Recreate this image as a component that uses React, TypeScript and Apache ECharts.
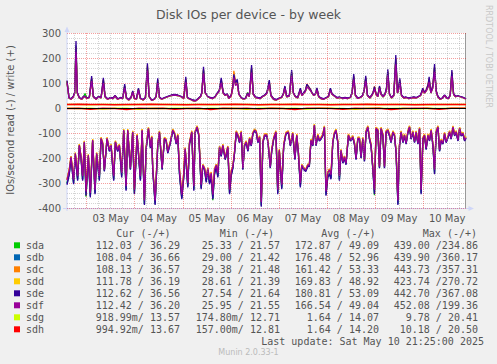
import React, { useEffect, useRef } from "react";
import * as echarts from "echarts";

const disks = ["sda", "sdb", "sdc", "sdd", "sde", "sdf", "sdg", "sdh"];
const diskColors = ["#00CC00", "#0066B3", "#FF8000", "#FFCC00", "#330099", "#990099", "#CCFF00", "#FF0000"];

// hours since 02 May 00:00
const writeHours = `14.2 15.2 16.2 17.35 18.0 18.7 19.35 20.35 21.5 22.5
23.2 24.2 25.35 26.5 27.35 28.7 30.0 31.2 32.35 33.2
34.5 35.85 37.2 38.2 39.5 40.85 42.0 43.0 43.85 45.0
46.2 47.0 47.85 48.85 49.85 50.85 52.2 53.35 54.35 55.2
56.5 57.85 58.7 59.5 60.35 61.5 62.85 64.5 66.2 67.85
69.5 71.2 72.5 73.5 74.35 75.7 77.0 78.35 79.5 80.85
81.5 82.35 83.2 84.5 85.7 87.0 88.2 89.2 90.2 91.2
92.2 93.2 94.2 95.0 96.2 97.0 97.5 98.35 99.2 100.0
101.2 102.35 103.35 104.35 105.2 106.35 107.2 108.35 109.5 110.7
111.7 112.85 114.0 115.2 116.0 117.35 118.7 120.0 121.35 122.2
123.0 123.85 125.2 126.35 127.2 128.2 129.35 130.7 131.5 132.35
133.2 134.0 134.85 135.7 136.5 137.35 138.2 139.0 139.85 141.0
142.35 143.5 144.7 145.7 146.5 147.7 149.0 150.35 151.7 153.0
154.35 155.7 156.5 157.35 158.2 159.35 160.7 161.7 162.5 163.35
164.2 165.35 166.35 167.0 167.7 168.5 169.35 170.2 171.0 172.0
173.0 173.7 174.35 175.2 176.2 177.35 178.35 179.2 179.7 180.35
181.2 182.35 183.5 184.7 186.0 187.35 188.5 189.7 190.7 191.85
192.7 193.7 194.5 195.0 195.85 196.85 197.7 198.5 199.35 200.5
201.5 202.7 203.7 204.7 205.5 206.35 207.2 208.2 209.35 210.5
211.7 212.7 213.4`;

const sdaWrite = `104 40 35 45 60 240 60 40 35 45
58 38 42 115 45 35 45 40 108 45
35 40 38 48 35 40 38 86 40 32
42 64 38 35 73 38 32 40 160 45
30 35 45 106 42 35 40 45 50 52
50 45 38 112 40 35 30 28 35 45
60 148 60 45 40 38 45 58 68 108
60 50 55 38 50 84 128 94 104 55
40 35 38 62 45 155 55 42 40 38
45 50 60 102 50 35 32 38 42 55
82 45 48 138 60 45 40 73 50 60
68 88 80 72 60 50 55 75 45 38
35 40 45 73 55 48 40 42 38 40
38 42 60 122 50 38 42 48 68 116
50 40 50 60 80 55 45 82 55 45
55 75 140 55 40 50 190 60 75 106
50 40 42 38 40 42 40 45 50 73
60 72 88 112 60 84 158 68 45 35
38 50 40 38 50 138 55 45 48 45
42 38 36`;
const sdbWrite = `106 40 35 45 60 250 60 40 35 45
45 38 42 118 45 35 45 40 112 45
35 40 38 48 35 40 38 88 40 32
42 65 38 35 74 38 32 40 165 45
30 35 45 110 42 35 40 45 50 52
50 45 38 115 40 35 30 28 35 45
60 152 60 45 40 38 45 58 68 112
60 50 55 38 50 85 130 95 106 55
40 35 38 58 45 160 55 42 40 38
45 50 60 104 50 35 32 38 42 55
84 45 48 142 60 45 40 74 50 60
68 90 82 73 60 50 55 76 45 38
35 40 45 74 55 48 40 42 38 40
38 42 60 126 50 38 42 48 68 120
50 40 50 60 82 55 45 84 55 45
55 76 145 55 40 50 198 60 76 110
50 40 42 38 40 42 40 45 50 74
60 73 90 115 60 85 162 68 45 35
38 50 40 38 50 142 55 45 48 45
42 38 36`;
const sdcWrite = `108 40 35 45 60 245 60 40 35 45
45 38 42 120 45 35 45 40 115 45
35 40 38 48 35 40 38 90 40 32
42 66 38 35 76 38 32 40 170 45
30 35 45 112 42 35 40 45 50 52
50 45 38 118 40 35 30 28 35 45
60 155 60 45 40 38 45 58 70 115
60 50 55 38 50 92 149 102 110 55
40 35 38 60 45 162 55 42 40 38
45 50 60 106 50 35 32 38 42 55
85 45 48 145 60 45 40 76 50 60
70 96 86 76 60 50 55 78 45 38
35 40 45 76 55 48 40 42 38 40
38 42 60 128 50 38 42 48 70 122
50 40 50 60 86 55 45 85 55 45
55 78 148 55 40 50 200 60 78 112
50 40 42 38 40 42 40 45 50 76
60 76 96 118 60 92 165 70 45 35
38 50 40 38 50 145 55 45 48 45
42 38 36`;
const sddWrite = `102 40 35 45 59 235 60 40 35 45
45 38 42 112 45 35 45 40 105 45
35 40 38 48 35 40 38 84 40 32
42 63 38 35 71 38 32 40 155 45
30 35 45 104 42 35 40 45 50 52
50 45 38 108 40 35 30 28 35 45
58 143 60 45 40 38 45 58 66 105
60 50 55 38 50 82 132 92 100 55
40 35 38 57 45 150 55 42 40 38
45 50 58 99 50 35 32 38 42 55
80 45 48 133 60 45 40 71 50 58
66 86 79 70 60 50 55 73 45 38
35 40 45 71 55 48 40 42 38 40
38 42 58 118 50 38 42 48 66 112
50 40 50 58 79 55 45 80 55 45
55 73 136 55 40 50 185 60 73 104
50 40 42 38 40 42 40 45 50 71
60 70 86 108 60 82 152 66 45 35
38 50 40 38 50 133 55 45 48 45
42 38 36`;
const sdeWrite = `110 42 37 47 62 268 62 42 37 47
47 40 44 128 47 37 47 42 121 47
37 42 40 50 37 42 40 96 42 34
44 68 40 37 79 40 34 42 179 47
32 37 47 119 44 37 42 47 52 54
52 47 40 125 42 37 32 30 37 47
62 165 62 47 42 40 47 60 70 121
62 52 57 40 52 90 135 100 115 57
42 37 40 60 47 172 57 44 42 40
47 52 62 112 52 37 34 40 44 57
88 47 50 152 62 47 42 79 52 62
70 95 85 75 62 52 57 80 47 40
37 42 47 79 57 50 42 44 40 42
40 44 62 136 52 40 44 50 70 129
52 42 52 62 85 57 47 88 57 47
57 80 155 57 42 52 212 62 80 119
52 42 44 40 42 44 42 47 52 79
62 75 95 125 62 90 176 70 47 37
40 52 42 40 52 152 57 47 50 47
44 40 37`;
const sdfWrite = `100 40 35 45 58 225 60 40 35 45
45 38 42 108 45 35 45 40 100 45
35 40 38 48 35 40 38 80 40 32
42 62 38 35 70 38 32 40 150 45
30 35 45 100 42 35 40 45 50 52
50 45 38 104 40 35 30 28 35 45
58 138 60 45 40 38 45 58 66 100
60 50 55 38 50 80 122 90 98 55
40 35 38 56 45 142 55 42 40 38
45 50 58 95 50 35 32 38 42 55
78 45 48 128 60 45 40 70 50 58
66 84 78 70 60 50 55 72 45 38
35 40 45 70 55 48 40 42 38 40
38 42 58 114 50 38 42 48 66 108
50 40 50 58 76 55 45 78 55 45
55 72 130 55 40 50 175 60 72 100
50 40 42 38 40 42 40 45 50 70
60 70 84 104 60 80 145 66 45 35
38 50 40 38 50 128 55 45 48 45
42 38 36`;

const readHours = `14.2 15.35 16.2 17.5 18.35 19.5 20.35 21.2 22.0 22.85
23.7 24.85 25.85 27.0 28.2 29.0 30.35 31.2 32.0 32.85
34.2 35.35 36.2 37.5 38.35 39.5 40.35 41.5 42.5 43.7
44.5 45.85 47.0 47.85 49.2 50.85 51.7 52.85 53.7 54.85
55.85 56.5 57.0 58.2 59.5 60.35 61.7 62.85 63.7 64.5
65.85 67.0 67.85 68.7 69.5 70.35 71.5 72.5 73.2 74.5
75.35 76.5 77.5 78.2 79.2 80.0 81.2 82.0 82.85 83.7
84.5 85.35 86.2 87.0 87.85 88.7 89.5 90.35 91.2 92.0
93.2 94.5 95.35 96.2 97.0 97.85 98.7 99.5 100.35 101.2
102.0 102.85 103.7 104.5 105.35 106.2 107.0 107.85 108.7 109.5
110.35 111.2 112.0 112.85 114.0 114.7 115.7 116.4 117.4 118.5
119.4 120.2 121.4 122.4 123.5 124.7 125.7 126.9 128.0 128.9
129.7 130.7 131.4 132.4 133.4 134.4 135.2 136.0 136.9 137.7
138.5 139.4 140.2 141.0 141.9 142.7 143.5 144.4 145.2 146.0
146.9 147.7 148.5 149.4 150.2 151.0 151.9 152.7 153.5 154.7
155.7 156.9 157.7 158.5 159.4 160.2 161.0 161.9 162.7 163.5
164.4 165.2 166.0 166.9 167.7 168.5 169.4 170.2 171.0 171.9
172.7 173.5 174.4 175.2 176.0 176.9 177.7 178.5 179.4 180.2
181.0 181.9 182.7 183.5 184.4 185.2 186.0 186.9 187.7 188.5
189.4 190.2 191.0 191.9 192.7 193.5 194.4 195.2 196.0 196.9
197.7 198.5 199.4 200.2 201.0 201.9 202.7 203.5 204.4 205.2
206.0 206.9 207.7 208.5 209.4 210.2 211.0 211.9 212.7 213.4`;

// read values (plotted negative)
const sdaRead = `-301 -259 -197 -299 -183 -285 -149 -197 -285 -136
-355 -190 -352 -129 -339 -183 -285 -122 -142 -250
-122 -170 -149 -285 -136 -170 -149 -272 -89 -325
-89 -243 -96 -339 -109 -285 -89 -382 -163 -82
-157 -116 -243 -382 -149 -96 -243 -122 -129 -177
-136 -89 -102 -142 -109 -259 -359 -272 -163 -312
-142 -96 -325 -96 -76 -109 -319 -230 -243 -292
-243 -299 -272 -369 -259 -230 -272 -157 -190 -149
-203 -157 -339 -265 -237 -177 -96 -109 -136 -96
-243 -149 -136 -170 -122 -149 -102 -89 -96 -136
-116 -389 -136 -109 -109 -149 -237 -170 -122 -96
-339 -170 -319 -149 -102 -96 -149 -102 -203 -109
-177 -312 -230 -243 -250 -230 -230 -129 -149 -69
-149 -109 -129 -122 -109 -76 -345 -272 -259 -279
-136 -102 -89 -136 -285 -170 -217 -197 -223 -109
-129 -116 -142 -203 -122 -122 -197 -122 -210 -96
-76 -122 -149 -243 -349 -82 -89 -237 -82 -109
-237 -96 -89 -109 -136 -96 -109 -177 -382 -149
-96 -136 -109 -142 -96 -76 -122 -96 -136 -96
-142 -82 -339 -122 -109 -163 -109 -129 -89 -149
-259 -96 -76 -170 -129 -142 -102 -136 -116 -96
-122 -76 -109 -96 -129 -82 -109 -102 -129 -119`;
const sdbRead = `-303 -261 -199 -301 -185 -287 -150 -199 -287 -137
-347 -192 -354 -130 -341 -185 -287 -123 -143 -252
-123 -172 -150 -287 -137 -172 -150 -274 -90 -327
-90 -245 -97 -341 -110 -287 -90 -384 -165 -83
-159 -117 -245 -384 -150 -97 -245 -123 -130 -179
-137 -90 -103 -143 -110 -261 -361 -274 -165 -314
-143 -97 -327 -97 -77 -110 -321 -232 -245 -294
-245 -301 -274 -361 -261 -232 -274 -159 -192 -150
-205 -159 -341 -267 -239 -179 -97 -110 -137 -97
-245 -150 -137 -172 -123 -150 -103 -90 -97 -137
-117 -391 -137 -110 -110 -150 -239 -172 -123 -97
-341 -172 -321 -150 -103 -97 -150 -103 -205 -110
-179 -314 -232 -245 -252 -232 -232 -130 -150 -70
-150 -110 -130 -123 -110 -77 -347 -274 -261 -281
-137 -103 -90 -137 -287 -172 -219 -199 -225 -110
-130 -117 -143 -205 -123 -123 -199 -123 -212 -97
-77 -123 -150 -245 -341 -83 -90 -239 -83 -110
-239 -97 -90 -110 -137 -97 -110 -179 -384 -150
-97 -137 -110 -143 -97 -77 -123 -97 -137 -97
-143 -83 -341 -123 -110 -165 -110 -130 -90 -150
-261 -97 -77 -172 -130 -143 -103 -137 -117 -97
-123 -77 -110 -97 -130 -83 -110 -103 -130 -120`;
const sdcRead = `-285 -243 -192 -283 -178 -269 -144 -192 -269 -131
-329 -185 -336 -124 -323 -178 -269 -117 -137 -245
-117 -165 -144 -269 -131 -165 -144 -256 -84 -309
-84 -238 -91 -323 -104 -269 -84 -366 -158 -77
-152 -111 -238 -366 -144 -91 -238 -117 -124 -172
-131 -84 -97 -137 -104 -243 -343 -256 -158 -296
-137 -91 -309 -91 -71 -104 -303 -225 -238 -276
-238 -283 -256 -343 -243 -225 -256 -152 -185 -144
-198 -152 -323 -249 -232 -172 -91 -104 -131 -91
-238 -144 -131 -165 -117 -144 -97 -84 -91 -131
-111 -373 -131 -104 -104 -144 -232 -165 -117 -91
-323 -165 -303 -144 -97 -91 -144 -97 -198 -104
-172 -296 -225 -238 -245 -225 -225 -124 -144 -64
-144 -104 -124 -117 -104 -71 -329 -256 -243 -263
-131 -97 -84 -131 -269 -165 -212 -192 -218 -104
-124 -111 -137 -198 -117 -117 -192 -117 -205 -91
-71 -117 -144 -238 -323 -77 -84 -232 -77 -104
-232 -91 -84 -104 -131 -91 -104 -172 -366 -144
-91 -131 -104 -137 -91 -71 -117 -91 -131 -91
-137 -77 -323 -117 -104 -158 -104 -124 -84 -144
-243 -91 -71 -165 -124 -137 -97 -131 -111 -91
-117 -71 -104 -91 -124 -77 -104 -97 -124 -114`;
const sddRead = `-287 -245 -193 -285 -179 -271 -145 -193 -271 -132
-331 -186 -338 -125 -325 -179 -271 -118 -138 -246
-118 -166 -145 -271 -132 -166 -145 -258 -85 -311
-85 -239 -92 -325 -105 -271 -85 -368 -159 -78
-153 -112 -239 -368 -145 -92 -239 -118 -125 -173
-132 -85 -98 -138 -105 -245 -345 -258 -159 -298
-138 -92 -311 -92 -72 -105 -305 -226 -239 -278
-239 -285 -258 -345 -245 -226 -258 -153 -186 -145
-199 -153 -325 -251 -233 -173 -92 -105 -132 -92
-239 -145 -132 -166 -118 -145 -98 -85 -92 -132
-112 -375 -132 -105 -105 -145 -233 -166 -118 -92
-325 -166 -305 -145 -98 -92 -145 -98 -199 -105
-173 -298 -226 -239 -246 -226 -226 -125 -145 -65
-145 -105 -125 -118 -105 -72 -331 -258 -245 -265
-132 -98 -85 -132 -271 -166 -213 -193 -219 -105
-125 -112 -138 -199 -118 -118 -193 -118 -206 -92
-72 -118 -145 -239 -325 -78 -85 -233 -78 -105
-233 -92 -85 -105 -132 -92 -105 -173 -368 -145
-92 -132 -105 -138 -92 -72 -118 -92 -132 -92
-138 -78 -325 -118 -105 -159 -105 -125 -85 -145
-245 -92 -72 -166 -125 -138 -98 -132 -112 -92
-118 -72 -105 -92 -125 -78 -105 -98 -125 -115`;
const sdeRead = `-307 -265 -201 -305 -187 -291 -152 -201 -291 -139
-351 -194 -358 -132 -345 -187 -291 -125 -145 -254
-125 -174 -152 -291 -139 -174 -152 -278 -92 -331
-92 -247 -99 -345 -112 -291 -92 -388 -167 -85
-161 -119 -247 -388 -152 -99 -247 -125 -132 -181
-139 -92 -105 -145 -112 -265 -365 -278 -167 -318
-145 -99 -331 -99 -79 -112 -325 -234 -247 -298
-247 -305 -278 -365 -265 -234 -278 -161 -194 -152
-207 -161 -345 -271 -241 -181 -99 -112 -139 -99
-247 -152 -139 -174 -125 -152 -105 -92 -99 -139
-119 -395 -139 -112 -112 -152 -241 -174 -125 -99
-345 -174 -325 -152 -105 -99 -152 -105 -207 -112
-181 -318 -234 -247 -254 -234 -234 -132 -152 -72
-152 -112 -132 -125 -112 -79 -351 -278 -265 -285
-139 -105 -92 -139 -291 -174 -221 -201 -227 -112
-132 -119 -145 -207 -125 -125 -201 -125 -214 -99
-79 -125 -152 -247 -345 -85 -92 -241 -85 -112
-241 -99 -92 -112 -139 -99 -112 -181 -388 -152
-99 -139 -112 -145 -99 -79 -125 -99 -139 -99
-145 -85 -345 -125 -112 -167 -112 -132 -92 -152
-265 -99 -79 -174 -132 -145 -105 -139 -119 -99
-125 -79 -112 -99 -132 -85 -112 -105 -132 -122`;
const sdfRead = `-289 -247 -195 -287 -181 -273 -148 -195 -273 -135
-333 -188 -340 -128 -327 -181 -273 -121 -141 -248
-121 -168 -148 -273 -135 -168 -148 -260 -88 -313
-88 -241 -95 -327 -108 -273 -88 -370 -161 -81
-155 -115 -241 -370 -148 -95 -241 -121 -128 -175
-135 -88 -101 -141 -108 -247 -347 -260 -161 -300
-141 -95 -313 -95 -75 -108 -307 -228 -241 -280
-241 -287 -260 -347 -247 -228 -260 -155 -188 -148
-201 -155 -327 -253 -235 -175 -95 -108 -135 -95
-241 -148 -135 -168 -121 -148 -101 -88 -95 -135
-115 -377 -135 -108 -108 -148 -235 -168 -121 -95
-327 -168 -307 -148 -101 -95 -148 -101 -201 -108
-175 -300 -228 -241 -248 -228 -228 -128 -148 -68
-148 -108 -128 -121 -108 -75 -333 -260 -247 -267
-135 -101 -88 -135 -273 -168 -215 -195 -221 -108
-128 -115 -141 -201 -121 -121 -195 -121 -208 -95
-75 -121 -148 -241 -327 -81 -88 -235 -81 -108
-235 -95 -88 -108 -135 -95 -108 -175 -370 -148
-95 -135 -108 -141 -95 -75 -121 -95 -135 -95
-141 -81 -327 -121 -108 -161 -108 -128 -88 -148
-247 -95 -75 -168 -128 -141 -101 -135 -115 -95
-121 -75 -108 -95 -128 -81 -108 -101 -128 -118`;

const lowHours = `14.2 20 26 32 38 44 50 56 62 68 74 80 86 92 98 104 110 116 122 128 134 140 146 152 158 164 170 176 182 188 194 200 206 213.4`;
const sdgWrite = `14 14 13 14 14 13 14 14 14 13 14 14 13 14 14 14 13 14 14 14 13 14 14 14 14 14 13 14 14 14 13 14 14 14`;
const sdhWrite = `14 15 14 14 13 14 14 15 14 14 13 14 14 14 15 14 13 14 14 15 14 14 13 14 14 15 14 14 14 13 14 14 14 14`;
const sdgRead = `-1 -2 -1 -4 -1 -1 -5 -1 -2 -1 -1 -4 -1 -2 -1 -5 -1 -1 -2 -1 -4 -1 -1 -2 -5 -1 -1 -2 -1 -4 -1 -2 -1 -1`;
const sdhRead = `-2 -1 -5 -1 -2 -6 -1 -2 -1 -5 -2 -1 -6 -1 -2 -1 -4 -1 -2 -6 -1 -1 -2 -5 -1 -2 -1 -6 -2 -1 -1 -5 -1 -1`;

const dayLabels = ["03 May", "04 May", "05 May", "06 May", "07 May", "08 May", "09 May", "10 May"];
const dayLabelHours = [36, 60, 84, 108, 132, 156, 180, 204];

const legendCur = ["112.03 / 36.29", "108.04 / 36.66", "108.13 / 36.57", "111.78 / 36.19", "112.62 / 36.56", "112.42 / 36.20", "918.99m/ 13.57", "994.92m/ 13.67"];
const legendMin = ["25.33 / 21.57", "29.00 / 21.42", "29.38 / 21.48", "28.61 / 21.39", "27.54 / 21.64", "25.95 / 21.55", "174.80m/ 12.71", "157.00m/ 12.81"];
const legendAvg = ["172.87 / 49.09", "176.48 / 52.96", "161.42 / 53.33", "169.83 / 48.92", "180.81 / 53.09", "166.54 / 49.04", "1.64 / 14.07", "1.64 / 14.20"];
const legendMax = ["439.00 /234.86", "439.90 /360.17", "443.73 /357.31", "423.74 /270.72", "442.70 /367.08", "452.08 /199.36", "9.78 / 20.41", "10.18 / 20.50"];

const num = (s: string) => s.trim().split(/\s+/).map(Number);
const pairs = (hs: number[], vs: number[]) => {
  const n = Math.min(hs.length, vs.length);
  const out: number[][] = [];
  for (let i = 0; i < n; i++) out.push([hs[i], vs[i]]);
  return out;
};

const FONT = '"DejaVu Sans"';
const MONO = '"DejaVu Sans Mono"';
const TXT = "#555555";
const MGRID = "rgba(229,0,0,0.38)";
const GRID = "rgba(143,143,143,0.38)";
const AXIS = "#CFD6F8";

export default function App() {
  const ref = useRef<HTMLDivElement>(null);
  useEffect(() => {
    if (!ref.current) return;
    const chart = echarts.init(ref.current, null, { renderer: "svg" });

    const wh = num(writeHours);
    const rh = num(readHours);
    const lh = num(lowHours);
    const writes = [sdaWrite, sdbWrite, sdcWrite, sddWrite, sdeWrite, sdfWrite].map(num);
    const reads = [sdaRead, sdbRead, sdcRead, sddRead, sdeRead, sdfRead].map(num);
    const lowW = [sdgWrite, sdhWrite].map(num);
    const lowR = [sdgRead, sdhRead].map(num);

    const series: any[] = [];
    const lineSeries = (name: string, color: string, data: number[][]) => ({
      name,
      type: "line",
      data,
      showSymbol: false,
      symbol: "none",
      silent: true,
      z: 3,
      lineStyle: { width: 1.3, color },
      itemStyle: { color },
      animation: false,
    });

    const majors: number[] = [];
    const minors: number[] = [];
    for (let h = 18; h <= 210; h += 6) {
      if (h % 24 === 0) majors.push(h);
      else minors.push(h);
    }
    series.push({
      type: "line",
      data: [],
      z: 1,
      silent: true,
      markLine: {
        silent: true,
        symbol: ["none", "none"],
        label: { show: false },
        animation: false,
        data: [
          ...minors.map((h) => ({ xAxis: h, lineStyle: { color: GRID, type: [1, 1], width: 1 } })),
          ...majors.map((h) => ({ xAxis: h, lineStyle: { color: MGRID, type: [1, 1], width: 1 } })),
        ],
      },
    });

    for (let i = 0; i < 6; i++) {
      series.push(lineSeries(disks[i] + "_w", diskColors[i], pairs(wh, writes[i])));
      series.push(lineSeries(disks[i] + "_r", diskColors[i], pairs(rh, reads[i])));
    }
    for (let j = 0; j < 2; j++) {
      series.push(lineSeries(disks[6 + j] + "_w", diskColors[6 + j], pairs(lh, lowW[j])));
      series.push(lineSeries(disks[6 + j] + "_r", diskColors[6 + j], pairs(lh, lowR[j])));
    }
    series.push({
      type: "line",
      data: [],
      z: 5,
      silent: true,
      markLine: {
        silent: true,
        symbol: ["none", "none"],
        label: { show: false },
        animation: false,
        lineStyle: { color: "#000000", width: 1, type: "solid" },
        data: [{ yAxis: 0 }],
      },
    });

    const graphic: any[] = [];
    const text = (t: string, x: number, y: number, font: string, fill: string, align: string, extra: any = {}) => ({
      type: "text",
      x,
      y,
      silent: true,
      ...extra,
      style: { text: t, font, fill, align, verticalAlign: "middle", textAlign: align, textVerticalAlign: "middle" },
    });

    graphic.push(text("Disk IOs per device - by week", 248.5, 14, `12.5px ${FONT}`, TXT, "center"));
    graphic.push(text("IOs/second read (-) / write (+)", 10.5, 120, `10px ${FONT}`, TXT, "center", { rotation: Math.PI / 2 }));
    graphic.push(text("RRDTOOL / TOBI OETIKER", 488.5, 56.5, `8px ${FONT}`, "#C8C8C8", "center", { rotation: -Math.PI / 2 }));

    // axes
    graphic.push({ type: "line", silent: true, shape: { x1: 67, y1: 211, x2: 67, y2: 30 }, style: { stroke: AXIS, lineWidth: 1 } });
    graphic.push({ type: "polygon", silent: true, shape: { points: [[64.5, 32], [69.5, 32], [67, 26.5]] }, style: { fill: AXIS } });
    graphic.push({ type: "line", silent: true, shape: { x1: 63, y1: 208.5, x2: 469, y2: 208.5 }, style: { stroke: AXIS, lineWidth: 1 } });
    graphic.push({ type: "polygon", silent: true, shape: { points: [[468.5, 206], [468.5, 211], [474, 208.5]] }, style: { fill: AXIS } });
    graphic.push({ type: "line", silent: true, shape: { x1: 465.5, y1: 33, x2: 465.5, y2: 208 }, style: { stroke: "#9A9A9A", lineWidth: 1 } });

    // legend table
    const mono = `10px ${MONO}`;
    graphic.push(text("Cur (-/+)", 170.5, 233.3, mono, TXT, "right"));
    graphic.push(text("Min (-/+)", 274, 233.3, mono, TXT, "right"));
    graphic.push(text("Avg (-/+)", 375.5, 233.3, mono, TXT, "right"));
    graphic.push(text("Max (-/+)", 477, 233.3, mono, TXT, "right"));
    for (let i = 0; i < disks.length; i++) {
      const y = 245.3 + i * 12;
      graphic.push({ type: "rect", silent: true, shape: { x: 14, y: y - 3, width: 6, height: 6 }, style: { fill: diskColors[i] } });
      graphic.push(text(disks[i], 26, y, mono, TXT, "left"));
      graphic.push(text(legendCur[i], 180, y, mono, TXT, "right"));
      graphic.push(text(legendMin[i], 280, y, mono, TXT, "right"));
      graphic.push(text(legendAvg[i], 379, y, mono, TXT, "right"));
      graphic.push(text(legendMax[i], 478, y, mono, TXT, "right"));
    }
    graphic.push(text("Last update: Sat May 10 21:25:00 2025", 484, 341.3, mono, TXT, "right"));
    graphic.push(text("Munin 2.0.33-1", 248.5, 352.7, `8px ${FONT}`, "#BBBBBB", "center"));

    chart.setOption({
      animation: false,
      backgroundColor: "#F0F0F0",
      grid: { left: 67, right: 31, top: 33, bottom: 156, show: true, backgroundColor: "#FFFFFF", borderWidth: 0, containLabel: false },
      xAxis: {
        type: "value",
        min: 14.2,
        max: 213.4,
        axisLine: { show: false },
        axisTick: { show: false },
        splitLine: { show: false },
        axisLabel: {
          customValues: dayLabelHours,
          color: TXT,
          fontSize: 10,
          fontFamily: "DejaVu Sans",
          margin: 5,
          formatter: (v: number) => {
            const k = dayLabelHours.indexOf(Math.round(v));
            return k >= 0 ? dayLabels[k] : "";
          },
        },
      },
      yAxis: {
        type: "value",
        min: -400,
        max: 300,
        interval: 100,
        axisLine: { show: false },
        axisTick: { show: false },
        axisLabel: { color: TXT, fontSize: 10, fontFamily: "DejaVu Sans", margin: 6 },
        splitLine: { show: true, lineStyle: { color: MGRID, type: [1, 1], width: 1 } },
        minorTick: { show: false, splitNumber: 5 },
        minorSplitLine: { show: true, lineStyle: { color: GRID, type: [1, 1], width: 1 } },
      },
      series,
      graphic,
    });

    return () => chart.dispose();
  }, []);

  return <div ref={ref} style={{ position: "fixed", left: 0, top: 0, width: 497, height: 364 }} />;
}
